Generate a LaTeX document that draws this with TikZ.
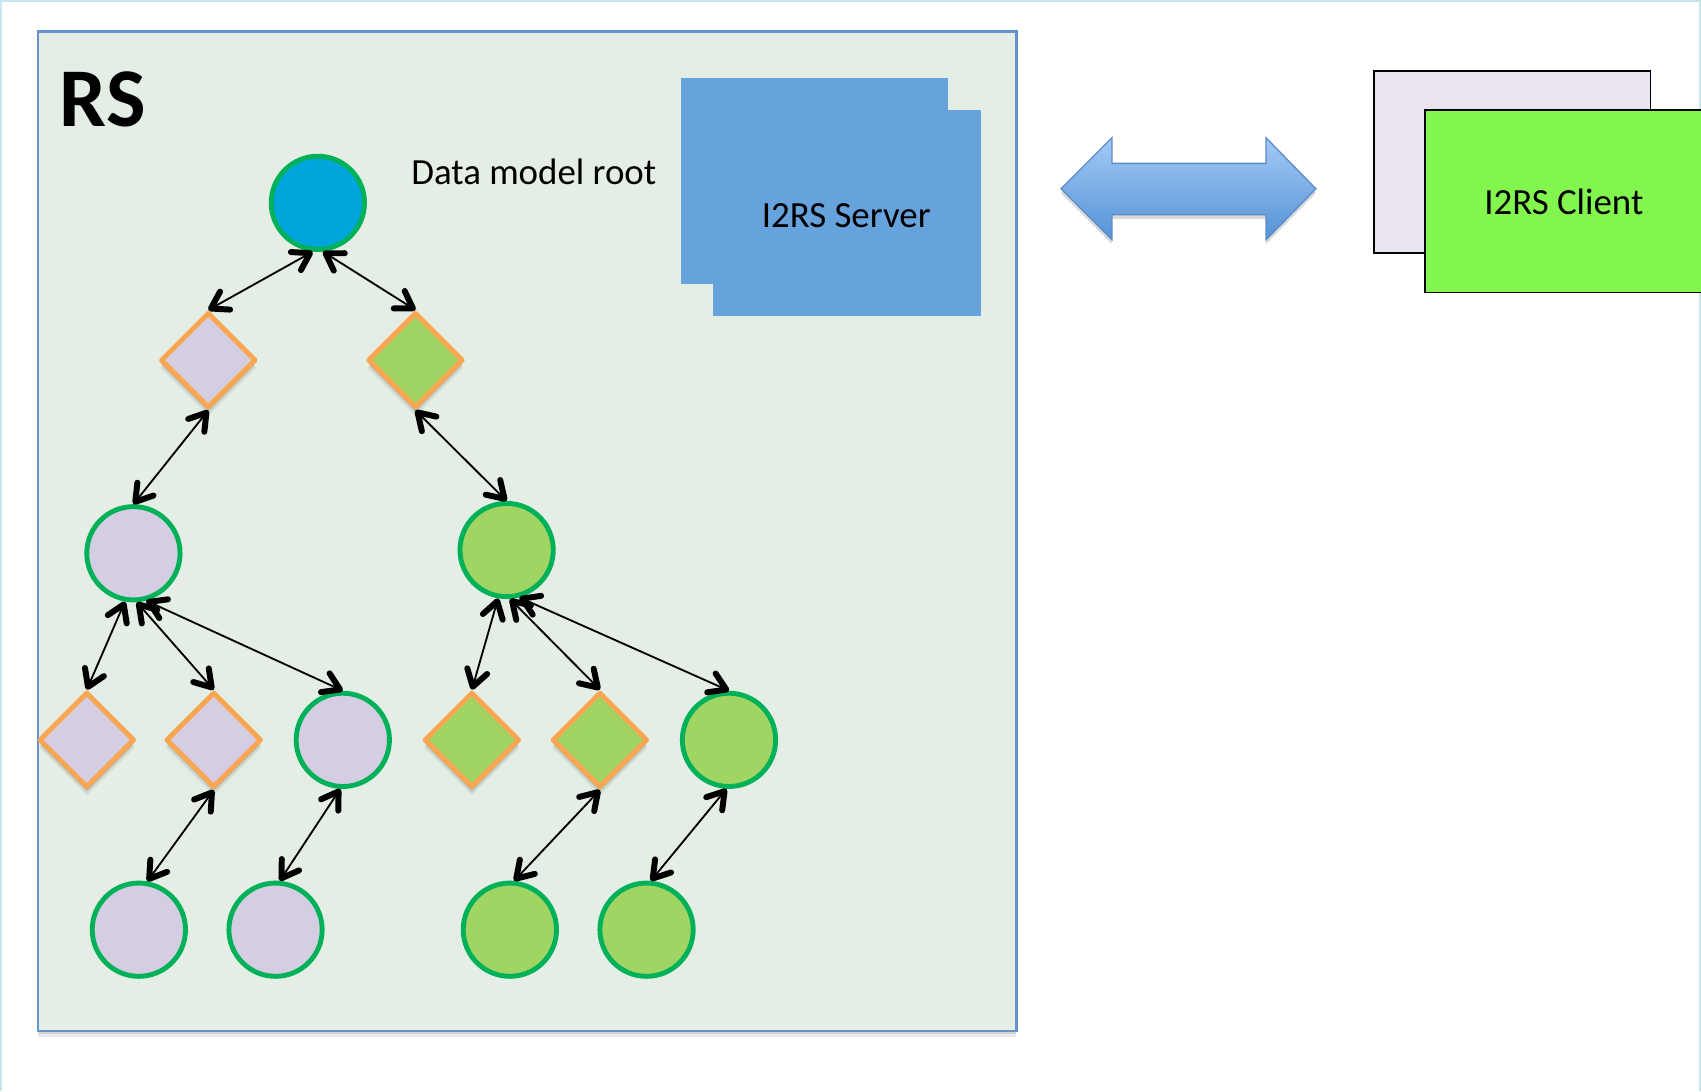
\documentclass[tikz,border=0pt]{standalone}
\usepackage{fontspec}
\setmainfont{Carlito}
\usetikzlibrary{shapes.geometric,arrows.meta,shadows}
\definecolor{rsfill}{HTML}{E4EEE4}
\definecolor{rsborder}{HTML}{6694CA}
\definecolor{lav}{HTML}{D5CEE2}
\definecolor{lgreen}{HTML}{A1D563}
\definecolor{cgreen}{HTML}{00B15A}
\definecolor{dorange}{HTML}{F9A652}
\definecolor{rootblue}{HTML}{00A5DB}
\definecolor{srvblue}{HTML}{66A2DC}
\definecolor{clback}{HTML}{EAE5F0}
\definecolor{clfront}{HTML}{83F54F}
\definecolor{arrtop}{HTML}{A4C9F5}
\definecolor{arrbot}{HTML}{5493D6}
\definecolor{arrborder}{HTML}{5B8BCB}
\definecolor{pageborder}{HTML}{C8E5EE}
\begin{document}
\begin{tikzpicture}[x=1pt,y=-1pt,
  circ/.style={circle,minimum size=86pt,inner sep=0pt,line width=4.5pt,draw=cgreen},
  softshadow/.style={
    drop shadow={shadow xshift=0pt,shadow yshift=-7pt,shadow scale=1.02,opacity=0.07,fill=black},
    drop shadow={shadow xshift=0pt,shadow yshift=-5pt,opacity=0.10,fill=black},
    drop shadow={shadow xshift=0pt,shadow yshift=-3pt,opacity=0.12,fill=black}},
  diam/.style={diamond,minimum width=88pt,minimum height=88pt,inner sep=0pt,line width=4.5pt,
    draw=dorange,line join=round,softshadow},
  lab/.style={font=\fontsize{34}{40}\selectfont,inner sep=0pt,anchor=base west},
  srv/.style={fill=srvblue,minimum width=246pt,minimum height=190pt,inner sep=0pt},
  cli/.style={draw=black,line width=1.5pt,minimum width=255pt,minimum height=168pt,inner sep=0pt},
  link/.style={line width=1.7pt,<->},
  >={Straight Barb[length=15pt,width=19pt,line width=5.5pt,round]}
]
\useasboundingbox (0,0) rectangle (1568,1006);
\fill[white] (0,0) rectangle (1568,1006);
\draw[pageborder,line width=2pt] (1,1006) -- (1,1) -- (1567,1) -- (1567,1006);

% RS box
\node[draw=rsborder,fill=rsfill,line width=2pt,minimum width=902pt,minimum height=921pt,inner sep=0pt,
  drop shadow={shadow xshift=0pt,shadow yshift=-6pt,opacity=0.08,fill=black},
  drop shadow={shadow xshift=0pt,shadow yshift=-3pt,opacity=0.10,fill=black}] (rsbox) at (486,489.5) {};
\node[font=\bfseries\fontsize{77}{80}\selectfont,anchor=base west,inner sep=0pt] (rs) at (55,117) {RS};

% tree nodes
\node[circ,fill=rootblue] (root) at (293,187) {};
\node[diam,fill=lav] (d1) at (192,332) {};
\node[diam,fill=lgreen] (d2) at (383,332) {};
\node[circ,fill=lav] (c1) at (123,510) {};
\node[circ,fill=lgreen] (c2) at (467,507) {};
\node[diam,fill=lav] (d3) at (80,682) {};
\node[diam,fill=lav] (d4) at (197,682) {};
\node[circ,fill=lav] (c3) at (316,682) {};
\node[diam,fill=lgreen] (d5) at (435,682) {};
\node[diam,fill=lgreen] (d6) at (553,682) {};
\node[circ,fill=lgreen] (c4) at (672,682) {};
\node[circ,fill=lav] (c5) at (128,857) {};
\node[circ,fill=lav] (c6) at (254,857) {};
\node[circ,fill=lgreen] (c7) at (470,857) {};
\node[circ,fill=lgreen] (c8) at (596,857) {};

% connectors
\draw[link] (root.-96) -- (d1.north);
\draw[link] (root.-84) -- (d2.north);
\draw[link] (d1.south) -- (c1.north);
\draw[link] (d2.south) -- (c2.north);
\draw[link] (c1.-100) -- (d3.north);
\draw[link] (c1.-86) -- (d4.north);
\draw[link] (c1.-75) -- (c3.north);
\draw[link] (c2.-100) -- (d5.north);
\draw[link] (c2.-86) -- (d6.north);
\draw[link] (c2.-75) -- (c4.north);
\draw[link] (d4.south) -- (c5.80);
\draw[link] (c3.-93) -- (c6.85);
\draw[link] (d6.south) -- (c7.85);
\draw[link] (c4.-93) -- (c8.85);

\node[lab] (dmr) at (379,170) {Data model root};

% server
\node[srv] (srvback) at (751,167) {};
\node[srv,minimum width=247pt] (srvfront) at (780.5,196) {};
\node[lab] (srvtxt) at (702,210) {I2RS Server};

% block arrow
\draw[arrborder,line width=1.2pt,top color=arrtop,bottom color=arrbot,
  drop shadow={shadow xshift=0pt,shadow yshift=-4pt,opacity=0.15,fill=black}]
  (978,174) -- (1025,127) -- (1025,150.6) -- (1167,150.6) -- (1167,127) -- (1213,174)
  -- (1167,221) -- (1167,198) -- (1025,198) -- (1025,221) -- cycle;

% client
\node[cli,fill=clback] (clback) at (1394,149.5) {};
\node[cli,fill=clfront] (clfront) at (1441,185.5) {};
\node[lab] (cltxt) at (1368,198) {I2RS Client};
\end{tikzpicture}
\end{document}
